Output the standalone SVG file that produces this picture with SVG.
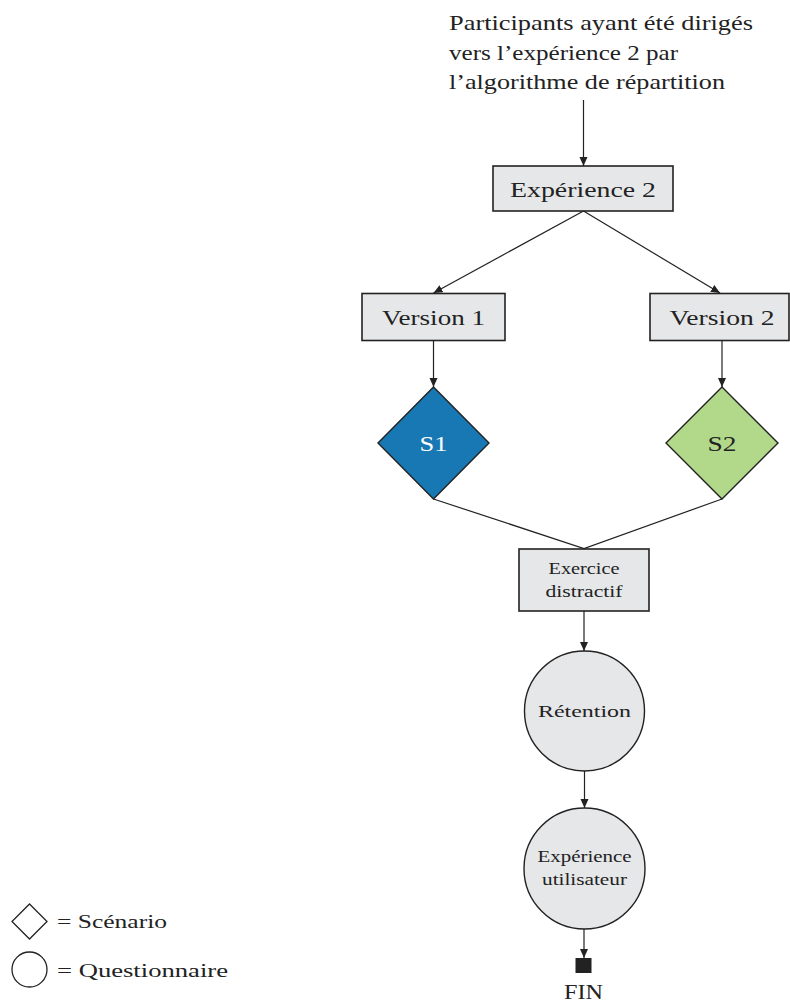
<svg xmlns="http://www.w3.org/2000/svg" width="790" height="1003" viewBox="0 0 790 1003">
  <defs>
    <marker id="arrow" markerWidth="10" markerHeight="10" refX="9" refY="5" orient="auto" markerUnits="userSpaceOnUse">
      <path d="M0,1 L9,5 L0,9 Z" fill="#222"/>
    </marker>
    <style>
      text { font-family: "Liberation Serif", "Times New Roman", serif; fill: #222; }
      .box { fill: #e6e7e9; stroke: #222; stroke-width: 1.6; }
      .circ { fill: #e6e7e9; stroke: #222; stroke-width: 1.4; }
      .edge { fill: none; stroke: #222; stroke-width: 1.2; }
      .arr { marker-end: url(#arrow); }
      .big { font-size: 22px; }
      .mid { font-size: 17.5px; }
      .small { font-size: 16px; }
      .leg { font-size: 19.5px; }
    </style>
  </defs>
  <rect width="790" height="1003" fill="#fff"/>

  <!-- heading text -->
  <g id="intro">
    <text class="big" x="449" y="30" textLength="304" lengthAdjust="spacingAndGlyphs">Participants ayant été dirigés</text>
    <text class="big" x="449" y="60" textLength="229" lengthAdjust="spacingAndGlyphs">vers l’expérience 2 par</text>
    <text class="big" x="449" y="89" textLength="276" lengthAdjust="spacingAndGlyphs">l’algorithme de répartition</text>
  </g>

  <!-- connectors -->
  <g id="connectors">
    <line class="edge arr" x1="583.5" y1="100" x2="583.5" y2="166"/>
    <line class="edge arr" x1="583.5" y1="211" x2="433.5" y2="293"/>
    <line class="edge arr" x1="583.5" y1="211" x2="720" y2="293"/>
    <line class="edge arr" x1="433.5" y1="341" x2="433.5" y2="387"/>
    <line class="edge arr" x1="722" y1="341" x2="722" y2="387"/>
    <polyline class="edge" points="433.5,499 584,548.5 722,499"/>
    <line class="edge arr" x1="584" y1="611" x2="584" y2="651"/>
    <line class="edge arr" x1="584.5" y1="771" x2="584.5" y2="808"/>
    <line class="edge arr" x1="584" y1="929" x2="584" y2="958"/>
  </g>

  <g id="experience2">
    <rect class="box" x="493" y="166" width="180" height="45"/>
    <text class="big" x="583" y="197" text-anchor="middle" textLength="146" lengthAdjust="spacingAndGlyphs">Expérience 2</text>
  </g>

  <g id="version1">
    <rect class="box" x="362" y="293.5" width="143" height="47"/>
    <text class="big" x="433.5" y="325" text-anchor="middle" textLength="103" lengthAdjust="spacingAndGlyphs">Version 1</text>
  </g>

  <g id="version2">
    <rect class="box" x="650" y="293.5" width="139" height="47"/>
    <text class="big" x="722" y="325" text-anchor="middle" textLength="105" lengthAdjust="spacingAndGlyphs">Version 2</text>
  </g>

  <g id="s1">
    <polygon points="433.5,387 489,443 433.5,499 378,443" fill="#1878b4" stroke="#222" stroke-width="1.4"/>
    <text class="big" x="433.5" y="451" text-anchor="middle" style="fill:#fff" textLength="28" lengthAdjust="spacingAndGlyphs">S1</text>
  </g>

  <g id="s2">
    <polygon points="722,387 778,443 722,499 666,443" fill="#b2d88a" stroke="#222" stroke-width="1.4"/>
    <text class="big" x="722" y="451" text-anchor="middle" textLength="29" lengthAdjust="spacingAndGlyphs">S2</text>
  </g>

  <g id="exercice">
    <rect class="box" x="519" y="549" width="130" height="62"/>
    <text class="small" x="584" y="574" text-anchor="middle" textLength="71" lengthAdjust="spacingAndGlyphs">Exercice</text>
    <text class="small" x="584" y="597" text-anchor="middle" textLength="77" lengthAdjust="spacingAndGlyphs">distractif</text>
  </g>

  <g id="retention">
    <circle class="circ" cx="584.5" cy="711" r="60"/>
    <text class="mid" x="584.5" y="717" text-anchor="middle" textLength="93" lengthAdjust="spacingAndGlyphs">Rétention</text>
  </g>

  <g id="experience-utilisateur">
    <circle class="circ" cx="584.5" cy="868.5" r="60.5"/>
    <text class="small" x="584.5" y="862" text-anchor="middle" textLength="94" lengthAdjust="spacingAndGlyphs">Expérience</text>
    <text class="small" x="584.5" y="885" text-anchor="middle" textLength="85" lengthAdjust="spacingAndGlyphs">utilisateur</text>
  </g>

  <g id="fin">
    <rect x="575.5" y="958" width="16" height="15" fill="#222"/>
    <text x="583.5" y="999" text-anchor="middle" font-size="20" textLength="39" lengthAdjust="spacingAndGlyphs">FIN</text>
  </g>

  <g id="legend">
    <polygon points="29.5,904 47,921.5 29.5,939 12,921.5" fill="none" stroke="#222" stroke-width="1.3"/>
    <text class="leg" x="57" y="927.5" textLength="110" lengthAdjust="spacingAndGlyphs">= Scénario</text>
    <circle cx="29.5" cy="969.5" r="17.5" fill="none" stroke="#222" stroke-width="1.3"/>
    <text class="leg" x="57" y="976.5" textLength="171" lengthAdjust="spacingAndGlyphs">= Questionnaire</text>
  </g>
</svg>
